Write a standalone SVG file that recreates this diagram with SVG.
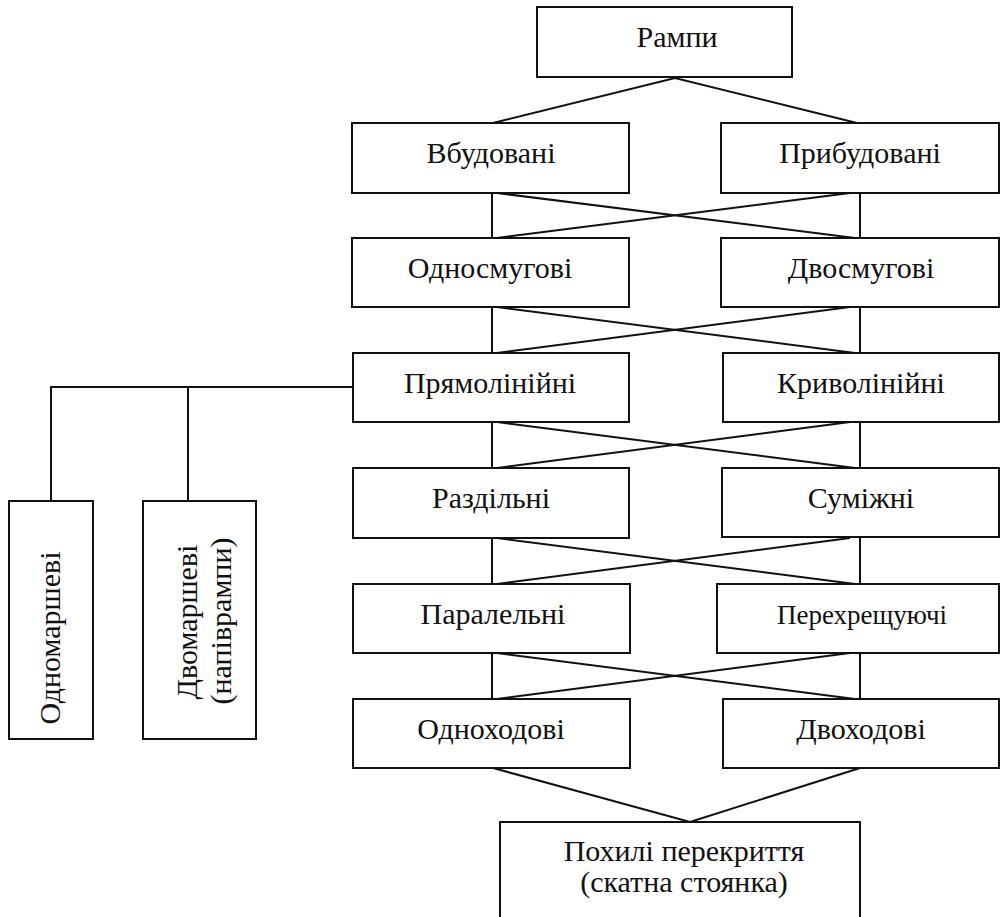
<svg xmlns="http://www.w3.org/2000/svg" width="1003" height="917" viewBox="0 0 1003 917">
<style>
.b{fill:#fff;stroke:#111;stroke-width:2}
.t{font-family:"Liberation Serif","Times New Roman",serif;font-size:30px;fill:#111;text-anchor:middle}
.c{stroke:#111;stroke-width:2;fill:none}
</style>
<rect width="1003" height="917" fill="#fff"/>
<g id="connectors">
<path class="c" d="M493,123 L675,78 L857,123"/>
<path class="c" d="M492,193 V238 M860,193 V238 M497,193 L855,238 M850,193 L497,238"/>
<path class="c" d="M492,307 V353 M860,307 V353 M497,307 L855,353 M850,307 L497,353"/>
<path class="c" d="M492,422 V468 M860,422 V468 M497,422 L855,468 M850,422 L497,468"/>
<path class="c" d="M492,538 V584 M860,538 V584 M497,538 L855,584 M850,538 L497,584"/>
<path class="c" d="M492,653 V699 M860,653 V699 M497,653 L855,699 M850,653 L497,699"/>
<path class="c" d="M493,768 L690,822 L860,768"/>
<path class="c" d="M353,387 H51 V501 M188,387 V501"/>
</g>
<g id="n-rampy"><rect class="b" x="537" y="7" width="255" height="70"/><text class="t" x="677" y="47">Рампи</text></g>
<g id="n-vbud"><rect class="b" x="352" y="123" width="277" height="70"/><text class="t" x="491" y="163">Вбудовані</text></g>
<g id="n-prybud"><rect class="b" x="721" y="123" width="278" height="70"/><text class="t" x="860" y="163">Прибудовані</text></g>
<g id="n-odnosm"><rect class="b" x="352" y="238" width="277" height="69"/><text class="t" x="490" y="278">Односмугові</text></g>
<g id="n-dvosm"><rect class="b" x="721" y="238" width="278" height="69"/><text class="t" x="861" y="278">Двосмугові</text></g>
<g id="n-pryam"><rect class="b" x="353" y="353" width="276" height="69"/><text class="t" x="490" y="393">Прямолінійні</text></g>
<g id="n-kryv"><rect class="b" x="723" y="353" width="276" height="69"/><text class="t" x="861" y="393">Криволінійні</text></g>
<g id="n-razd"><rect class="b" x="353" y="468" width="276" height="70"/><text class="t" x="491" y="508">Раздільні</text></g>
<g id="n-sumizh"><rect class="b" x="722" y="468" width="277" height="69"/><text class="t" x="861" y="508">Суміжні</text></g>
<g id="n-paral"><rect class="b" x="353" y="584" width="277" height="69"/><text class="t" x="493" y="624">Паралельні</text></g>
<g id="n-perekh"><rect class="b" x="717" y="584" width="282" height="69"/><text class="t" x="862" y="624" style="font-size:27px">Перехрещуючі</text></g>
<g id="n-odnokh"><rect class="b" x="353" y="699" width="277" height="69"/><text class="t" x="491" y="739">Одноходові</text></g>
<g id="n-dvokh"><rect class="b" x="723" y="699" width="276" height="69"/><text class="t" x="861" y="739">Двоходові</text></g>
<g id="n-pokhyli"><rect class="b" x="500" y="822" width="360" height="110"/><text class="t" x="684" y="861">Похилі перекриття</text><text class="t" x="684" y="892">(скатна стоянка)</text></g>
<g id="n-odnomarsh"><rect class="b" x="9" y="501" width="84" height="238"/><text class="t" transform="translate(60,638) rotate(-90)">Одномаршеві</text></g>
<g id="n-dvomarsh"><rect class="b" x="143" y="501" width="113" height="238"/><text class="t" transform="translate(197,622) rotate(-90)">Двомаршеві</text><text class="t" transform="translate(231,621) rotate(-90)">(напіврампи)</text></g>
</svg>
